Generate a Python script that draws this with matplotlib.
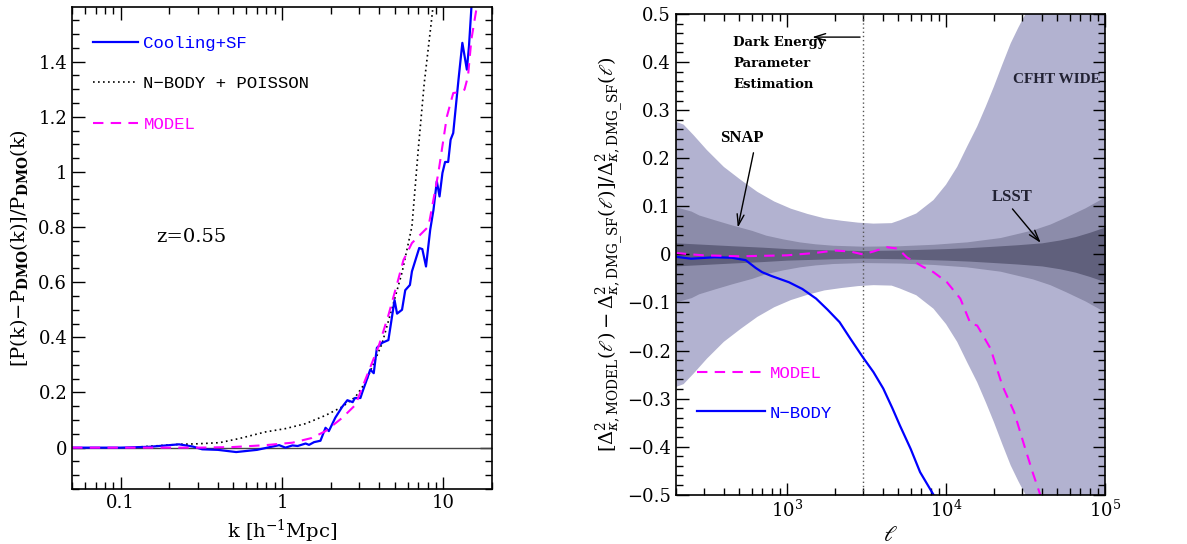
import numpy as np
import matplotlib.pyplot as plt
from matplotlib import ticker

plt.rcParams['font.family'] = ['DejaVu Serif']
plt.rcParams['mathtext.fontset'] = 'dejavuserif'

# left panel: power spectrum ratio
k_sf = [0.05, 0.1, 0.15, 0.2, 0.23, 0.28, 0.32, 0.4, 0.52, 0.7, 0.96, 1.05, 1.16, 1.25,
        1.4, 1.47, 1.58, 1.73, 1.86, 1.95, 2.14, 2.36, 2.54, 2.74, 2.83, 3.06, 3.14, 3.4,
        3.52, 3.7, 3.87, 4.17, 4.56, 4.98, 5.16, 5.54, 5.8, 6.2, 6.38, 7.08, 7.4, 7.8,
        8.28, 8.68, 9.1, 9.46, 9.86, 10.24, 10.7, 11.08, 11.5, 12.4, 13.1, 13.97, 14.4,
        14.9, 16.0]
y_sf = [0.0, 0.0, 0.003, 0.009, 0.012, 0.004, -0.006, -0.008, -0.016, -0.008, 0.009, 0.0,
        0.008, 0.006, 0.015, 0.01, 0.02, 0.025, 0.072, 0.06, 0.109, 0.148, 0.172, 0.165,
        0.18, 0.18, 0.2, 0.257, 0.283, 0.27, 0.362, 0.38, 0.39, 0.535, 0.486, 0.5, 0.571,
        0.59, 0.639, 0.724, 0.72, 0.657, 0.79, 0.863, 0.966, 0.911, 0.996, 1.036, 1.036,
        1.117, 1.141, 1.335, 1.468, 1.371, 1.456, 1.595, 1.75]

k_pois = [0.134, 0.18, 0.23, 0.3, 0.41, 0.543, 0.79, 1.05, 1.4, 1.86, 2.36, 2.85, 3.3,
          4.17, 4.8, 5.54, 6.38, 6.98, 7.6, 8.4, 9.0]
y_pois = [0.003, 0.008, 0.012, 0.014, 0.018, 0.033, 0.057, 0.069, 0.087, 0.117, 0.148,
          0.184, 0.238, 0.378, 0.505, 0.635, 0.802, 1.08, 1.32, 1.54, 1.7]

k_mod = [0.05, 0.1, 0.2, 0.3, 0.49, 0.79, 1.16, 1.53, 1.86, 2.36, 2.85, 3.3, 3.98, 4.56,
         5.25, 5.65, 6.38, 8.08, 9.3, 10.5, 11.5, 12.4, 13.5, 14.2, 14.9, 16.0, 17.0]
y_mod = [0.0, 0.0, 0.0, 0.0, 0.002, 0.009, 0.018, 0.035, 0.06, 0.108, 0.155, 0.25, 0.37,
         0.48, 0.61, 0.68, 0.742, 0.802, 0.996, 1.2, 1.286, 1.289, 1.298, 1.347, 1.48,
         1.59, 1.7]

# right panel: convergence power ratio
l_nb = [200, 250, 350, 450, 550, 635, 698, 800, 1030, 1250, 1525, 1800, 2142, 2500, 3000,
        3500, 4030, 4600, 5130, 6000, 6870, 8340, 9000]
y_nb = [-0.005, -0.009, -0.006, -0.007, -0.012, -0.028, -0.037, -0.045, -0.058, -0.072,
        -0.092, -0.115, -0.141, -0.175, -0.214, -0.245, -0.279, -0.32, -0.356, -0.405,
        -0.453, -0.5, -0.53]

l_mr = [200, 250, 300, 400, 500, 700, 1000, 1500, 2000, 2500, 3000, 3500, 4230, 5000,
        5660, 6300, 7180, 8340, 10140, 12300, 14250, 15700, 19050, 22600, 26800, 31000,
        35000, 39100, 42000]
y_mr = [0.003, 0.0, -0.002, -0.003, -0.004, -0.003, -0.002, 0.003, 0.008, 0.006, 0.0,
        0.006, 0.015, 0.012, -0.006, -0.015, -0.026, -0.037, -0.058, -0.092, -0.144,
        -0.148, -0.196, -0.273, -0.328, -0.397, -0.453, -0.5, -0.54]

# survey error bands (half widths, symmetric about zero)
l_cfht = [200, 224, 259, 314, 401, 512, 652, 832, 1060, 1350, 1720, 2200, 2800, 3500,
          4550, 5130, 6500, 8340, 10000, 11750, 13600, 15700, 17800, 20000, 22600, 25500,
          28500, 31600, 35000, 100000]
cfht = [0.276, 0.27, 0.248, 0.217, 0.182, 0.155, 0.13, 0.11, 0.095, 0.084, 0.075, 0.07,
        0.066, 0.064, 0.065, 0.071, 0.085, 0.113, 0.145, 0.182, 0.225, 0.266, 0.308, 0.349,
        0.395, 0.439, 0.472, 0.5, 0.55, 3.0]
l_snap = [200, 250, 279, 350, 453, 600, 736, 950, 1197, 1500, 1945, 3000, 5130, 8340,
          13500, 21900, 35000, 45000, 56800, 75000, 100000]
snap = [0.099, 0.09, 0.082, 0.072, 0.061, 0.05, 0.04, 0.032, 0.026, 0.022, 0.019, 0.017,
        0.018, 0.021, 0.026, 0.035, 0.051, 0.063, 0.078, 0.097, 0.12]
l_lsst = [200, 300, 450, 700, 1000, 1400, 2000, 3000, 5000, 7000, 10000, 14000, 20000,
          28000, 40000, 52000, 65000, 80000, 100000]
lsst = [0.024, 0.021, 0.018, 0.015, 0.012, 0.0105, 0.009, 0.008, 0.009, 0.0105, 0.012,
        0.014, 0.017, 0.02, 0.024, 0.03, 0.037, 0.046, 0.057]

fig = plt.figure(figsize=(11.87, 5.44), dpi=100)
ax1 = fig.add_axes([0.0607, 0.1011, 0.3538, 0.886])
ax2 = fig.add_axes([0.5693, 0.0906, 0.3617, 0.8836])

def style(ax):
    ax.tick_params(which='both', direction='in', top=True, right=True, labelsize=13)
    ax.tick_params(which='major', length=9, width=1)
    ax.tick_params(which='minor', length=5, width=1)
    for s in ax.spines.values():
        s.set_linewidth(1.2)

# ---- left
ax1.set_xscale('log')
ax1.axhline(0, color='#444444', lw=1)
ax1.plot(k_pois, y_pois, color='black', ls=(0, (1, 2)), lw=1.2, label='N\u2212BODY + POISSON')
ax1.plot(k_sf, y_sf, color='#0000ff', lw=1.6, label='Cooling+SF')
ax1.plot(k_mod, y_mod, color='#ff00ff', ls=(0, (5, 3.5)), lw=1.5, label='MODEL')
ax1.set_xlim(0.05, 20)
ax1.set_ylim(-0.15, 1.598)
ax1.yaxis.set_major_locator(ticker.MultipleLocator(0.2))
ax1.yaxis.set_minor_locator(ticker.MultipleLocator(0.05))
ax1.yaxis.set_major_formatter(ticker.FuncFormatter(lambda v, p: '%g' % round(v, 2)))
ax1.xaxis.set_major_formatter(ticker.FuncFormatter(lambda v, p: '%g' % v))
ax1.xaxis.set_minor_formatter(ticker.NullFormatter())
style(ax1)
ax1.set_xlabel(r'k [h$^{-1}$Mpc]', fontsize=14, labelpad=4)
ax1.set_ylabel(r'[P(k)$-$P$_{\mathbf{DMO}}$(k)]/P$_{\mathbf{DMO}}$(k)', fontsize=14, labelpad=6)
ax1.text(0.167, 0.744, 'z=0.55', fontsize=14)
h = ax1.get_legend_handles_labels()[0]
ax1.legend([h[1], h[0], h[2]], ['Cooling+SF', 'N\u2212BODY + POISSON', 'MODEL'],
           loc='upper left', bbox_to_anchor=(0.05, 0.94), frameon=False,
           borderpad=0, borderaxespad=0, handlelength=2.6, handletextpad=0.3,
           labelspacing=1.45, labelcolor=['#0000ff', 'black', '#ff00ff'],
           prop={'family': 'Liberation Mono', 'size': 12.5})

# ---- right
ax2.set_xscale('log')
ax2.fill_between(l_cfht, [-v for v in cfht], cfht, color='#b2b2d0', lw=0)
ax2.fill_between(l_snap, [-v for v in snap], snap, color='#8c8caa', lw=0)
ax2.fill_between(l_lsst, [-v for v in lsst], lsst, color='#60607c', lw=0)
ax2.axvline(3000, color='#555555', ls=(0, (1, 2)), lw=1)
nb, = ax2.plot(l_nb, y_nb, color='#0000ff', lw=1.6)
md, = ax2.plot(l_mr, y_mr, color='#ff00ff', ls=(0, (5, 3.5)), lw=1.5)
ax2.set_xlim(200, 1e5)
ax2.set_ylim(-0.5, 0.5)
ax2.yaxis.set_major_locator(ticker.MultipleLocator(0.1))
ax2.yaxis.set_minor_locator(ticker.MultipleLocator(0.02))
ax2.yaxis.set_major_formatter(ticker.FuncFormatter(
    lambda v, p: ('%g' % round(v, 2)).replace('-', '\u2212')))
ax2.xaxis.set_minor_formatter(ticker.NullFormatter())
style(ax2)
ax2.set_xlabel(r'$\ell$', fontsize=16, labelpad=2)
ax2.set_ylabel(r'$[\Delta^2_{\kappa,\mathrm{MODEL}}(\ell)-\Delta^2_{\kappa,\mathrm{DMG\_SF}}(\ell)]'
               r'/\Delta^2_{\kappa,\mathrm{DMG\_SF}}(\ell)$', fontsize=14, labelpad=1)
ax2.legend([md, nb], ['MODEL', 'N\u2212BODY'], loc='upper left',
           bbox_to_anchor=(0.049, 0.268), frameon=False, borderpad=0, borderaxespad=0,
           handlelength=3.9, handletextpad=0.3, labelspacing=1.4,
           labelcolor=['#ff00ff', '#0000ff'], prop={'family': 'Liberation Mono', 'size': 12.5})

ax2.text(460, 0.455, 'Dark Energy\nParameter\nEstimation', fontsize=9.5, fontweight='bold',
         va='top', linespacing=1.8)
ax2.annotate('', xy=(1384, 0.452), xytext=(3000, 0.452),
             arrowprops=dict(arrowstyle='->,head_length=0.8,head_width=0.25', lw=1, color='black'))
ax2.text(94000, 0.363, 'CFHT WIDE', fontsize=11, fontweight='bold', ha='right', va='center',
         family='Liberation Serif', color='#222233')
ax2.text(519, 0.243, 'SNAP', fontsize=12, fontweight='bold', ha='center', va='center',
         family='Liberation Serif')
ax2.annotate('', xy=(487, 0.05), xytext=(621, 0.217),
             arrowprops=dict(arrowstyle='->,head_length=0.8,head_width=0.25', lw=1, color='black'))
ax2.text(26200, 0.12, 'LSST', fontsize=12, fontweight='bold', ha='center', va='center',
         family='Liberation Serif', color='#222233')
ax2.annotate('', xy=(40400, 0.0195), xytext=(25500, 0.099),
             arrowprops=dict(arrowstyle='->,head_length=0.8,head_width=0.25', lw=1, color='black'))

fig.savefig('out.png', dpi=100)
